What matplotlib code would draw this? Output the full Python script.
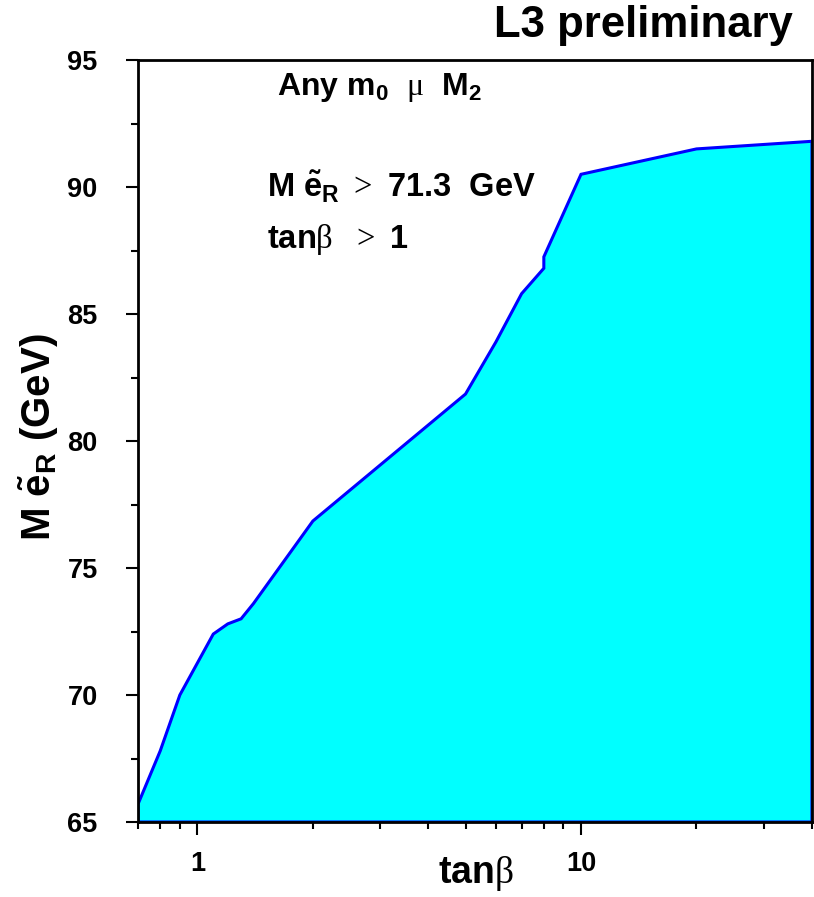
import numpy as np
import matplotlib
matplotlib.use('Agg')
import matplotlib.pyplot as plt
from matplotlib.ticker import FixedLocator, NullFormatter, FuncFormatter, MultipleLocator

# excluded region boundary: selectron mass limit vs tan(beta)
tanb = [0.7, 0.8, 0.9, 1.1, 1.2, 1.3, 1.4, 2.0, 5.0, 6.0, 7.0, 8.0, 8.0, 10.0, 20.0, 40.0]
m_sel = [65.7, 67.8, 70.0, 72.4, 72.8, 73.0, 73.6, 76.85, 81.85, 83.9, 85.8, 86.8, 87.25, 90.5, 91.5, 91.8]

x_major = [1, 10]
x_minor = [0.7, 0.8, 0.9, 2, 3, 4, 5, 6, 7, 8, 9, 20, 30, 40]
y_min, y_max = 65, 95

plt.rcParams['font.family'] = ['Liberation Sans', 'DejaVu Sans']
plt.rcParams['mathtext.fontset'] = 'custom'
plt.rcParams['mathtext.rm'] = 'Liberation Sans:bold'
plt.rcParams['mathtext.it'] = 'Liberation Sans:bold'
plt.rcParams['mathtext.bf'] = 'Liberation Sans:bold'
# greek letters and relation signs in a plain serif face
plt.rcParams['mathtext.sf'] = 'Liberation Serif:regular'

fig = plt.figure(figsize=(8.14, 8.97), dpi=100)
ax = fig.add_axes([0.1695, 0.0836, 0.828, 0.8495])

# filled polygon closed down to the bottom of the frame
xs = [tanb[0]] + tanb + [tanb[-1]]
ys = [y_min] + m_sel + [y_min]
ax.fill(xs, ys, facecolor='#00ffff', edgecolor='#0000ff', linewidth=2.2, zorder=2)

ax.set_xscale('log')
ax.set_xlim(0.7, 40)
ax.set_ylim(y_min, y_max)

ax.xaxis.set_major_locator(FixedLocator(x_major))
ax.xaxis.set_minor_locator(FixedLocator(x_minor))
ax.xaxis.set_major_formatter(FuncFormatter(lambda v, p: '%g' % v))
ax.xaxis.set_minor_formatter(NullFormatter())
ax.yaxis.set_major_locator(MultipleLocator(5))
ax.yaxis.set_minor_locator(MultipleLocator(2.5))

ax.tick_params(which='both', direction='out', width=1.5, colors='black')
ax.tick_params(which='major', length=9)
ax.tick_params(which='minor', length=5)
ax.tick_params(axis='y', which='major', labelsize=19.5, pad=20)
ax.tick_params(axis='x', which='major', labelsize=19.5, pad=12)
for lab in ax.get_xticklabels() + ax.get_yticklabels():
    lab.set_fontweight('bold')

for sp in ax.spines.values():
    sp.set_linewidth(2.0)
    sp.set_zorder(3)

# labels
fig.text(0.585, 0.0156, r'tan$\mathsf{\beta}$', fontsize=27, fontweight='bold',
         ha='center', va='baseline')
fig.text(0.048, 0.513, r'M $\tilde{e}_R$ (GeV)', fontsize=29, fontweight='bold',
         rotation=90, ha='center', va='center')
fig.text(0.974, 0.9588, 'L3 preliminary', fontsize=31.5, fontweight='bold',
         ha='right', va='baseline')

ax.text(0.206, 0.954, r'Any m$_0$  $\mathsf{\mu}$  M$_2$', transform=ax.transAxes,
        fontsize=23, fontweight='bold', va='baseline')
ax.text(0.191, 0.819, r'M $\tilde{e}_R$ $\mathsf{>}$ 71.3  GeV', transform=ax.transAxes,
        fontsize=23.5, fontweight='bold', va='baseline')
ax.text(0.191, 0.753, r'tan$\mathsf{\beta}$  $\mathsf{>}$ 1', transform=ax.transAxes,
        fontsize=23.5, fontweight='bold', va='baseline')

fig.savefig('out.png', dpi=100)
